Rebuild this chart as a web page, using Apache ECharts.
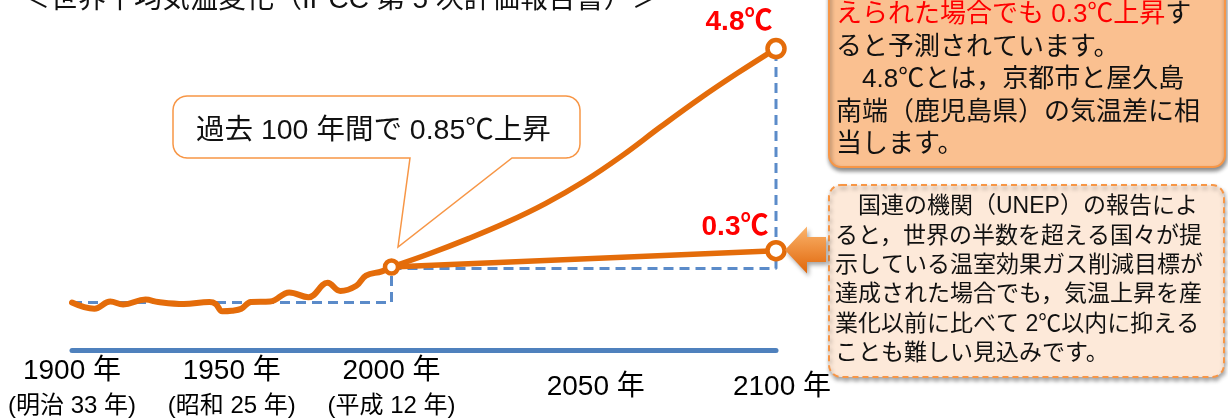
<!DOCTYPE html>
<html><head><meta charset="utf-8">
<script src="https://cdn.jsdelivr.net/npm/echarts@6/dist/echarts.min.js"></script>
<style>html,body{margin:0;padding:0;background:#fff;}#c{width:1228px;height:419px;}</style>
</head><body><div id="c"></div>
<script>
// ---- data (baseline 1900 level = 0) ----
const histYears  = [1900,1907,1912,1916,1923,1927,1935,1943,1945,1947,1950,1953,1956,1962,1968,1974,1980,1984,1989,1992,1997,2000];
const histValues = [0.00,-0.13,0.02,-0.04,0.06,0.01,-0.03,0.01,-0.03,-0.18,-0.17,-0.13,0.01,0.02,0.21,0.11,0.41,0.24,0.35,0.56,0.65,0.74];
const projYears  = [2000,2010,2020,2030,2040,2050,2060,2070,2080,2090,2100];
const highValues = [0.74,1.02,1.33,1.67,2.06,2.52,3.06,3.66,4.24,4.78,5.29];
const lowYears   = [2000,2100];
const lowValues  = [0.74,1.08];
const refYears1  = [1900,2000,2000];
const refValues1 = [0,0,0.71];
const refYears2  = [2000,2100,2100];
const refValues2 = [0.71,0.71,5.29];
const tickYears  = [1900,1950,2000,2050,2100];
const tickMain   = ['1900 年','1950 年','2000 年','2050 年','2100 年'];
const tickSub    = ['(明治 33 年)','(昭和 25 年)','(平成 12 年)','',''];
const endLabels  = ['4.8℃','0.3℃'];
const titleText  = '＜世界平均気温変化（IPCC 第 5 次評価報告書）＞';
const calloutText = '過去 100 年間で 0.85℃上昇';
const box1Red = 'えられた場合でも 0.3℃上昇';
const box1Lines = ['す','ると予測されています。','　4.8℃とは，京都市と屋久島','南端（鹿児島県）の気温差に相','当します。'];
const box2Lines = ['　国連の機関（UNEP）の報告によ','ると，世界の半数を超える国々が提','示している温室効果ガス削減目標が','達成された場合でも，気温上昇を産','業化以前に比べて 2℃以内に抑える','ことも難しい見込みです。'];

const FONT = "'Liberation Sans', 'Noto Sans CJK JP', sans-serif";
const ORANGE = '#e46c0a';
const BLUE = '#4f81bd';
const zip = (xs, ys) => xs.map((x, i) => [x, ys[i]]);

// rounded-rectangle callout outline with a tail (shape geometry for the decoration)
function calloutPoints(x0, y0, x1, y1, r, tailL, tailR, tip) {
  const pts = [];
  const arc = (cx, cy, a0, a1) => { for (let k = 0; k <= 6; k++) { const a = a0 + (a1 - a0) * k / 6; pts.push([cx + r * Math.cos(a), cy + r * Math.sin(a)]); } };
  arc(x0 + r, y0 + r, Math.PI, 1.5 * Math.PI);
  arc(x1 - r, y0 + r, 1.5 * Math.PI, 2 * Math.PI);
  arc(x1 - r, y1 - r, 0, 0.5 * Math.PI);
  pts.push([tailR, y1], tip, [tailL, y1]);
  arc(x0 + r, y1 - r, 0.5 * Math.PI, Math.PI);
  return pts;
}

const chart = echarts.init(document.getElementById('c'), null, {renderer: 'canvas'});

const richAxis = {
  a: {fontSize: 28, lineHeight: 34, fontFamily: FONT, color: '#000'},
  b: {fontSize: 24, lineHeight: 37, fontFamily: FONT, color: '#000'},
  c: {fontSize: 28, lineHeight: 34, fontFamily: FONT, color: '#000', padding: [0, 0, 0, 24]},
  d: {fontSize: 28, lineHeight: 34, fontFamily: FONT, color: '#000', padding: [0, 0, 0, 12]}
};

const yAxisCommon = {type: 'value', min: -1, max: 6.25, show: false};
const xAxisCommon = {
  type: 'value', interval: 50,
  axisLine: {show: true, onZero: false, lineStyle: {color: BLUE, width: 5}},
  axisTick: {show: false}, splitLine: {show: false}
};

const option = {
  animation: false,
  backgroundColor: '#fff',
  grid: [
    {left: 72, width: 319.5, top: 2.5, bottom: 68.5},
    {left: 391.5, width: 384.5, top: 2.5, bottom: 68.5}
  ],
  xAxis: [
    Object.assign({}, xAxisCommon, {gridIndex: 0, min: 1900, max: 2000,
      axisLabel: {margin: 3.5, showMinLabel: true, showMaxLabel: true, rich: richAxis,
        formatter: v => { const i = tickYears.indexOf(v); return i < 0 ? '' : '{a|' + tickMain[i] + '}\n{b|' + tickSub[i] + '}'; }}}),
    Object.assign({}, xAxisCommon, {gridIndex: 1, min: 2000, max: 2100,
      axisLabel: {margin: 20, showMinLabel: true, showMaxLabel: true, rich: richAxis,
        formatter: v => { const i = tickYears.indexOf(v); if (i < 0 || v === 2000) return ''; return '{' + (v === 2050 ? 'c' : 'd') + '|' + tickMain[i] + '}'; }}})
  ],
  yAxis: [
    Object.assign({}, yAxisCommon, {gridIndex: 0}),
    Object.assign({}, yAxisCommon, {gridIndex: 1})
  ],
  series: [
    {type: 'line', xAxisIndex: 0, yAxisIndex: 0, data: zip(refYears1, refValues1), symbol: 'none', clip: false, z: 2,
      lineStyle: {color: '#5b8bc9', width: 3, type: [10, 6]}},
    {type: 'line', xAxisIndex: 1, yAxisIndex: 1, data: zip(refYears2, refValues2), symbol: 'none', clip: false, z: 2,
      lineStyle: {color: '#5b8bc9', width: 3, type: [10, 6]}},
    {type: 'line', xAxisIndex: 0, yAxisIndex: 0, data: zip(histYears, histValues), symbol: 'none', smooth: 0.4, clip: false, z: 3,
      lineStyle: {color: ORANGE, width: 6, cap: 'round', join: 'round'}},
    {type: 'line', xAxisIndex: 1, yAxisIndex: 1, data: zip(projYears, highValues), symbol: 'none', smooth: 0.4, clip: false, z: 3,
      lineStyle: {color: ORANGE, width: 5.5, cap: 'round'}},
    {type: 'line', xAxisIndex: 1, yAxisIndex: 1, data: zip(lowYears, lowValues), symbol: 'none', clip: false, z: 3,
      lineStyle: {color: ORANGE, width: 5.5, cap: 'round'}},
    {type: 'scatter', xAxisIndex: 1, yAxisIndex: 1, clip: false, z: 5,
      itemStyle: {color: '#fff', borderColor: ORANGE, borderWidth: 4.5, opacity: 1},
      label: {show: false, fontFamily: FONT, fontSize: 28, fontWeight: 'bold', color: '#ff0000', position: 'top'},
      data: [
        {value: [projYears[0], highValues[0]], symbolSize: 13},
        {value: [projYears[projYears.length - 1], highValues[highValues.length - 1]], symbolSize: 17,
          label: {show: true, formatter: endLabels[0], offset: [-37, 3]}},
        {value: [lowYears[1], lowValues[1]], symbolSize: 17,
          label: {show: true, formatter: endLabels[1], offset: [-41, 6]}}
      ]}
  ],
  graphic: [
    {type: 'text', x: 22, y: 0, z: 10, style: {text: titleText, fontSize: 28, fontFamily: FONT, fill: '#111',
      textAlign: 'left', textVerticalAlign: 'middle'}},
    {type: 'polygon', z: 10, shape: {points: calloutPoints(173, 96, 580, 158, 14, 410, 512, [398, 247])},
      style: {fill: '#fff', stroke: '#f79646', lineWidth: 1.5}},
    {type: 'text', x: 196, y: 131.5, z: 11, style: {text: calloutText, fontSize: 28.5, fontFamily: FONT, fill: '#111',
      textAlign: 'left', textVerticalAlign: 'middle'}},
    {type: 'rect', z: 10, shape: {x: 829, y: -20, width: 396, height: 187, r: 12},
      style: {fill: '#fac090', stroke: '#f79646', lineWidth: 2, shadowBlur: 4, shadowOffsetX: 1, shadowOffsetY: 3, shadowColor: 'rgba(0,0,0,0.45)'}},
    {type: 'text', x: 836, y: -1.25, z: 11, style: {
      text: '{r|' + box1Red + '}' + box1Lines.join('\n'),
      fontSize: 26, lineHeight: 32.5, fontFamily: FONT, fill: '#111', textAlign: 'left', textVerticalAlign: 'top',
      rich: {r: {fill: '#ff0000', fontSize: 26, lineHeight: 32.5, fontFamily: FONT}}}},
    {type: 'rect', z: 10, shape: {x: 829, y: 185, width: 395, height: 192, r: 12},
      style: {fill: '#fde9d9', stroke: '#f79646', lineWidth: 2, lineDash: [6, 4], shadowBlur: 4, shadowOffsetX: 1, shadowOffsetY: 3, shadowColor: 'rgba(0,0,0,0.35)'}},
    {type: 'text', x: 835, y: 192.4, z: 11, style: {text: box2Lines.join('\n'),
      fontSize: 23, lineHeight: 29.3, fontFamily: FONT, fill: '#111', textAlign: 'left', textVerticalAlign: 'top'}},
    {type: 'polygon', z: 10, shape: {points: [[785, 250], [807, 226.5], [807, 237], [826, 237], [826, 262], [807, 262], [807, 273.5]]},
      style: {fill: {type: 'linear', x: 0, y: 0, x2: 0, y2: 1, colorStops: [{offset: 0, color: '#fbb46c'}, {offset: 1, color: '#e0660a'}]},
        shadowBlur: 4, shadowOffsetX: 2, shadowOffsetY: 3, shadowColor: 'rgba(0,0,0,0.35)'}}
  ]
};
chart.setOption(option);
</script>
</body></html>
